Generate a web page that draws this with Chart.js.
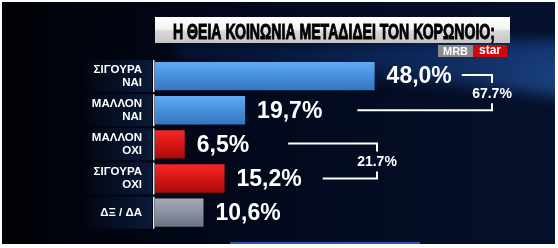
<!DOCTYPE html>
<html>
<head>
<meta charset="utf-8">
<script src="https://cdn.jsdelivr.net/npm/chart.js@4.4.1/dist/chart.umd.min.js"></script>
<style>
    html, body { margin: 0; padding: 0; background: #fff; }
    #wrap { width: 558px; height: 248px; }
</style>
</head>
<body>
<div id="wrap"><canvas id="chart" width="558" height="248"></canvas></div>
<script>
// Data
const title = 'Η ΘΕΙΑ ΚΟΙΝΩΝΙΑ ΜΕΤΑΔΙΔΕΙ ΤΟΝ ΚΟΡΩΝΟΙΟ;';
const categories = [['ΣΙΓΟΥΡΑ', 'ΝΑΙ'], ['ΜΑΛΛΟΝ', 'ΝΑΙ'], ['ΜΑΛΛΟΝ', 'ΟΧΙ'], ['ΣΙΓΟΥΡΑ', 'ΟΧΙ'], ['ΔΞ / ΔΑ']];
const values = [48.0, 19.7, 6.5, 15.2, 10.6];
const groups = [[0, 1], [2, 3]];   // bracketed totals (yes / no)

// Styles
const barColors = [
    ['#63adf2', '#4a92df', '#3573bd'],
    ['#63adf2', '#4a92df', '#3573bd'],
    ['#f22a2a', '#dc1515', '#a80a0a'],
    ['#f22a2a', '#dc1515', '#a80a0a'],
    ['#a7acbb', '#8e93a3', '#6b7080']
];
const bracketX = [492, 377];
const bracketGaps = [[10, 35], [39, 21]];
const FONT = '"Liberation Sans", Arial, sans-serif';

const fmt = v => v.toFixed(1).replace('.', ',') + '%';

function barFill(c) {
    const chart = c.chart;
    const col = barColors[c.dataIndex] || barColors[0];
    if (!chart.chartArea || c.type !== 'data') return col[1];
    const y = chart.scales.y.getPixelForValue(c.dataIndex);
    const g = chart.ctx.createLinearGradient(0, y - 15, 0, y + 15);
    g.addColorStop(0, col[0]);
    g.addColorStop(0.45, col[1]);
    g.addColorStop(1, col[2]);
    return g;
}

const backdrop = {
    id: 'backdrop',
    beforeDraw(chart) {
        const ctx = chart.ctx;
        ctx.save();
        ctx.fillStyle = '#fff';
        ctx.fillRect(0, 0, 558, 248);

        ctx.beginPath();
        ctx.rect(2, 2, 553, 242);
        ctx.clip();

        const g = ctx.createLinearGradient(2, 0, 555, 0);
        g.addColorStop(0, '#010207');
        g.addColorStop(0.4, '#02081a');
        g.addColorStop(1, '#05112c');
        ctx.fillStyle = g;
        ctx.fillRect(2, 2, 553, 242);

        // soft blue swoosh behind the top bars
        ctx.filter = 'blur(7px)';
        ctx.beginPath();
        ctx.moveTo(170, 60);
        ctx.quadraticCurveTo(360, 40, 570, 42);
        ctx.lineTo(570, 98);
        ctx.quadraticCurveTo(420, 76, 170, 64);
        ctx.closePath();
        const s = ctx.createLinearGradient(170, 0, 555, 0);
        s.addColorStop(0, 'rgba(25,70,150,0)');
        s.addColorStop(0.5, 'rgba(25,70,150,0.35)');
        s.addColorStop(1, 'rgba(40,95,180,0.6)');
        ctx.fillStyle = s;
        ctx.fill();

        ctx.fillStyle = 'rgba(15,45,105,0.45)';
        ctx.fillRect(175, 44, 400, 14);
        ctx.filter = 'none';

        // label panels
        const y = chart.scales.y;
        categories.forEach((c, i) => {
            const cy = y.getPixelForValue(i);
            const p = ctx.createLinearGradient(80, 0, 152, 0);
            p.addColorStop(0, 'rgba(20,50,100,0)');
            p.addColorStop(1, 'rgba(20,50,100,0.45)');
            ctx.fillStyle = p;
            ctx.fillRect(80, cy - 16, 72, 32);
        });

        // bottom glow line
        ctx.fillStyle = 'rgba(50,110,210,0.8)';
        ctx.fillRect(230, 242, 190, 2);
        ctx.restore();
    }
};

const overlay = {
    id: 'overlay',
    afterDatasetsDraw(chart) {
        const ctx = chart.ctx;
        const meta = chart.getDatasetMeta(0);
        ctx.save();

        // segmented axis line
        ctx.fillStyle = '#e8ecf2';
        meta.data.forEach(bar => {
            ctx.fillRect(bar.base - 2, bar.y - 16, 1.5, 32);
        });

        // value labels
        ctx.fillStyle = '#fff';
        ctx.font = 'bold 23px ' + FONT;
        ctx.textBaseline = 'middle';
        ctx.textAlign = 'left';
        const ends = [];
        meta.data.forEach((bar, i) => {
            const txt = fmt(values[i]);
            ctx.fillText(txt, bar.x + 12, bar.y + 1);
            ends.push(bar.x + 12 + ctx.measureText(txt).width);
        });

        // brackets with totals
        ctx.strokeStyle = '#fff';
        ctx.lineWidth = 2;
        ctx.font = 'bold 14px ' + FONT;
        ctx.textAlign = 'center';
        groups.forEach((grp, k) => {
            const [a, b] = grp;
            const x = bracketX[k];
            const y1 = meta.data[a].y - 1;
            const y2 = meta.data[b].y;
            ctx.beginPath();
            ctx.moveTo(ends[a] + bracketGaps[k][0], y1);
            ctx.lineTo(x, y1);
            ctx.lineTo(x, y1 + 8);
            ctx.moveTo(x, y2 - 7);
            ctx.lineTo(x, y2);
            ctx.lineTo(ends[b] + bracketGaps[k][1], y2);
            ctx.stroke();
            const total = grp.reduce((s, i) => s + values[i], 0);
            ctx.fillText(total.toFixed(1) + '%', x, (y1 + y2) / 2 + 1.5);
        });

        // title plate
        const tg = ctx.createLinearGradient(0, 17, 0, 43);
        tg.addColorStop(0, '#ffffff');
        tg.addColorStop(0.45, '#f4f4f4');
        tg.addColorStop(0.55, '#d8d8d8');
        tg.addColorStop(1, '#c4c4c4');
        ctx.fillStyle = tg;
        ctx.fillRect(155, 17, 355, 26);
        ctx.fillStyle = '#000';
        ctx.strokeStyle = '#000';
        ctx.lineWidth = 1;
        ctx.font = 'bold 22px ' + FONT;
        ctx.textAlign = 'left';
        ctx.textBaseline = 'alphabetic';
        const w = ctx.measureText(title).width;
        ctx.save();
        ctx.translate(173, 39);
        ctx.scale(322 / w, 1);
        ctx.fillText(title, 0, 0);
        ctx.strokeText(title, 0, 0);
        ctx.restore();

        // logo
        ctx.fillStyle = '#8c8c8c';
        ctx.fillRect(438, 45, 35, 12);
        ctx.fillStyle = '#d00a0a';
        ctx.fillRect(473, 45, 34, 12);
        ctx.fillStyle = '#fff';
        ctx.textAlign = 'center';
        ctx.textBaseline = 'middle';
        ctx.font = 'bold 11px ' + FONT;
        ctx.fillText('MRB', 455.5, 51.5);
        ctx.font = 'bold 12px ' + FONT;
        ctx.fillText('star', 490, 50.5);
        ctx.restore();
    }
};

new Chart(document.getElementById('chart'), {
    type: 'bar',
    data: {
        labels: categories,
        datasets: [{
            data: values,
            backgroundColor: barFill,
            borderWidth: 0,
            barPercentage: 0.83,
            categoryPercentage: 1
        }]
    },
    options: {
        indexAxis: 'y',
        responsive: false,
        animation: false,
        devicePixelRatio: 1,
        layout: { padding: { top: 59, bottom: 3, left: 0, right: 5 } },
        plugins: { legend: { display: false }, tooltip: { enabled: false } },
        scales: {
            x: { display: false, min: 0, max: 87 },
            y: {
                grid: { display: false },
                border: { display: false },
                afterFit: scale => { scale.width = 155; },
                ticks: {
                    color: '#fff',
                    padding: 5,
                    font: { family: FONT, size: 11.5, weight: 'bold', lineHeight: 1.15 }
                }
            }
        }
    },
    plugins: [backdrop, overlay]
});
</script>
</body>
</html>
